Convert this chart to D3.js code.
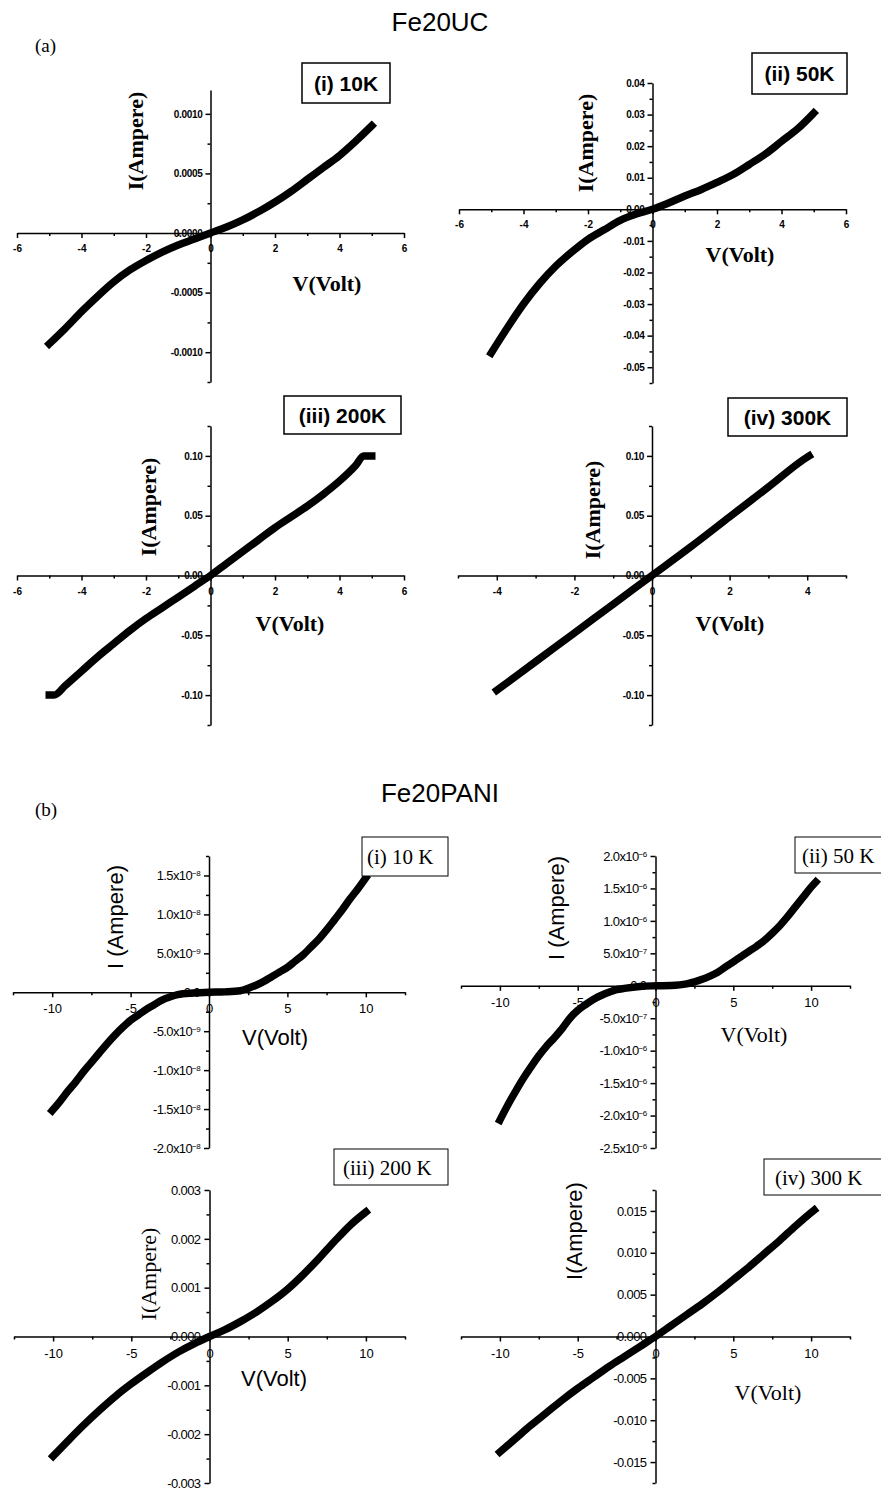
<!DOCTYPE html>
<html>
<head>
<meta charset="utf-8">
<script src="https://cdn.jsdelivr.net/npm/d3@7"></script>
<style>
  body { margin: 0; background: #fff; }
  svg { display: block; }
  .domain, .tick line { stroke: #000; stroke-width: 1.5; }
</style>
</head>
<body>
<svg id="chart" width="881" height="1491"></svg>
<script>
// ---- values ----
// (a) Fe20UC
const uc10V = [-5, -4.5, -4, -3.5, -3, -2.5, -2, -1.5, -1, -0.5, 0, 0.5, 1, 1.5, 2, 2.5, 3, 3.5, 4, 4.5, 5];
const uc10I = [-0.00093, -0.0008, -0.00066, -0.00053, -0.00041, -0.00031, -0.00023, -0.00016, -0.0001, -0.00005, 0,
               0.00005, 0.00011, 0.00018, 0.00026, 0.00035, 0.00045, 0.00055, 0.00065, 0.00077, 0.0009];
const uc50V = [-5, -4.5, -4, -3.5, -3, -2.5, -2, -1.5, -1, -0.5, 0, 0.5, 1, 1.5, 2, 2.5, 3, 3.5, 4, 4.5, 5];
const uc50I = [-0.0455, -0.0375, -0.03, -0.0235, -0.018, -0.0135, -0.0095, -0.0065, -0.0035, -0.0015, 0,
               0.002, 0.0042, 0.0062, 0.0085, 0.011, 0.0142, 0.0175, 0.0215, 0.0255, 0.0305];
const uc200V = [-5, -4.85, -4.5, -4, -3.5, -3, -2.5, -2, -1.5, -1, -0.5, 0, 0.5, 1, 1.5, 2, 2.5, 3, 3.5, 4, 4.5, 4.75, 5];
const uc200I = [-0.1, -0.1, -0.092, -0.08, -0.068, -0.057, -0.046, -0.036, -0.027, -0.018, -0.009, 0,
                0.01, 0.02, 0.03, 0.04, 0.049, 0.058, 0.068, 0.079, 0.092, 0.1, 0.1];
const uc300V = [-4, -3, -2, -1, 0, 1, 2, 3, 4, 4.05];
const uc300I = [-0.096, -0.072, -0.048, -0.024, 0, 0.024, 0.049, 0.074, 0.099, 0.1];

// (b) Fe20PANI
const pani10V = [-10, -9.5, -9, -8.5, -8, -7.5, -7, -6.5, -6, -5.5, -5, -4.5, -4, -3.5, -3, -2.5, -2, -1, 0,
                 1, 2, 2.5, 3, 3.5, 4, 4.5, 5, 5.5, 6, 6.5, 7, 7.5, 8, 8.5, 9, 9.5, 10];
const pani10I = [-1.52e-8, -1.4e-8, -1.27e-8, -1.15e-8, -1.02e-8, -0.9e-8, -0.78e-8, -0.66e-8, -0.55e-8, -0.45e-8,
                 -0.36e-8, -0.29e-8, -0.22e-8, -0.16e-8, -0.1e-8, -0.06e-8, -0.03e-8, -0.01e-8, 0,
                 0.005e-8, 0.02e-8, 0.05e-8, 0.09e-8, 0.14e-8, 0.2e-8, 0.26e-8, 0.32e-8, 0.4e-8, 0.48e-8,
                 0.58e-8, 0.68e-8, 0.8e-8, 0.93e-8, 1.06e-8, 1.2e-8, 1.33e-8, 1.47e-8];
const pani50V = [-10, -9.5, -9, -8.5, -8, -7.5, -7, -6.5, -6, -5.5, -5, -4.5, -4, -3.5, -3, -2.5, -2, -1, 0,
                 1, 2, 2.5, 3, 3.5, 4, 4.5, 5, 5.5, 6, 6.5, 7, 7.5, 8, 8.5, 9, 9.5, 10, 10.3];
const pani50I = [-2.07e-6, -1.84e-6, -1.63e-6, -1.43e-6, -1.25e-6, -1.08e-6, -0.93e-6, -0.8e-6, -0.66e-6, -0.5e-6,
                 -0.38e-6, -0.29e-6, -0.21e-6, -0.15e-6, -0.1e-6, -0.06e-6, -0.04e-6, -0.01e-6, 0,
                 0.005e-6, 0.03e-6, 0.06e-6, 0.1e-6, 0.15e-6, 0.21e-6, 0.29e-6, 0.37e-6, 0.45e-6, 0.53e-6,
                 0.61e-6, 0.7e-6, 0.81e-6, 0.93e-6, 1.07e-6, 1.22e-6, 1.37e-6, 1.52e-6, 1.6e-6];
const pani200V = [-10, -9, -8, -7, -6, -5, -4, -3, -2, -1, 0, 1, 2, 3, 4, 5, 6, 7, 8, 9, 10];
const pani200I = [-0.00245, -0.00212, -0.0018, -0.0015, -0.00122, -0.00097, -0.00074, -0.00052, -0.00032, -0.00015, 0,
                  0.00014, 0.00031, 0.0005, 0.00072, 0.00097, 0.00127, 0.0016, 0.00195, 0.00228, 0.00255];
const pani300V = [-10, -9, -8, -7, -6, -5, -4, -3, -2, -1, 0, 1, 2, 3, 4, 5, 6, 7, 8, 9, 10, 10.2];
const pani300I = [-0.0138, -0.0122, -0.0106, -0.0091, -0.0076, -0.0062, -0.0049, -0.0036, -0.0024, -0.0012, 0,
                  0.0013, 0.0026, 0.0039, 0.0053, 0.0068, 0.0083, 0.0099, 0.0115, 0.0132, 0.0148, 0.0151];

// tick values and labels
const ucXTicks = [-6, -4, -2, 0, 2, 4, 6];
const ucXTicks300 = [-4, -2, 0, 2, 4];
const paniXTicks = [-10, -5, 0, 5, 10];
const uc10YTicks = [0.001, 0.0005, 0, -0.0005, -0.001];
const uc10YLabels = ["0.0010", "0.0005", "0.0000", "-0.0005", "-0.0010"];
const uc50YTicks = [0.04, 0.03, 0.02, 0.01, 0, -0.01, -0.02, -0.03, -0.04, -0.05];
const uc50YLabels = ["0.04", "0.03", "0.02", "0.01", "0.00", "-0.01", "-0.02", "-0.03", "-0.04", "-0.05"];
const ucHiYTicks = [0.1, 0.05, 0, -0.05, -0.1];
const ucHiYLabels = ["0.10", "0.05", "0.00", "-0.05", "-0.10"];
const pani10YTicks = [1.5e-8, 1e-8, 5e-9, 0, -5e-9, -1e-8, -1.5e-8, -2e-8];
const pani10YLabels = ["1.5x10^-8", "1.0x10^-8", "5.0x10^-9", "0.0", "-5.0x10^-9", "-1.0x10^-8", "-1.5x10^-8", "-2.0x10^-8"];
const pani50YTicks = [2e-6, 1.5e-6, 1e-6, 5e-7, 0, -5e-7, -1e-6, -1.5e-6, -2e-6, -2.5e-6];
const pani50YLabels = ["2.0x10^-6", "1.5x10^-6", "1.0x10^-6", "5.0x10^-7", "0.0", "-5.0x10^-7", "-1.0x10^-6", "-1.5x10^-6", "-2.0x10^-6", "-2.5x10^-6"];
const pani200YTicks = [0.003, 0.002, 0.001, 0, -0.001, -0.002, -0.003];
const pani200YLabels = ["0.003", "0.002", "0.001", "0.000", "-0.001", "-0.002", "-0.003"];
const pani300YTicks = [0.015, 0.01, 0.005, 0, -0.005, -0.01, -0.015];
const pani300YLabels = ["0.015", "0.010", "0.005", "0.000", "-0.005", "-0.010", "-0.015"];

const SANS = '"Liberation Sans", Arial, Helvetica, sans-serif';
const SERIF = '"Liberation Serif", "Times New Roman", Times, serif';

const svg = d3.select("#chart");

// titles
svg.append("text").attr("x", 440).attr("y", 31).attr("text-anchor", "middle")
  .style("font-family", SANS).style("font-size", "26px").text("Fe20UC");
svg.append("text").attr("x", 440).attr("y", 802).attr("text-anchor", "middle")
  .style("font-family", SANS).style("font-size", "26px").text("Fe20PANI");
svg.append("text").attr("x", 35).attr("y", 52)
  .style("font-family", SERIF).style("font-size", "19px").text("(a)");
svg.append("text").attr("x", 35).attr("y", 816)
  .style("font-family", SERIF).style("font-size", "19px").text("(b)");

function minorTicks(domain, step) {
  const h = step / 2;
  const lo = Math.ceil(domain[0] / h - 1e-9), hi = Math.floor(domain[1] / h + 1e-9);
  return d3.range(lo, hi + 1).filter(k => k % 2 !== 0).map(k => k * h);
}

function panel(p) {
  const x = d3.scaleLinear().domain(p.xDomain).range(p.xRange);
  const y = d3.scaleLinear().domain(p.yDomain).range(p.yRange);
  const g = svg.append("g");

  // minor ticks
  g.append("g").attr("transform", `translate(0,${y(0)})`)
    .call(d3.axisBottom(x).tickValues(minorTicks(p.xDomain, p.xStep)).tickSize(3).tickSizeOuter(0).tickFormat(""))
    .select(".domain").remove();
  g.append("g").attr("transform", `translate(${x(0)},0)`)
    .call(d3.axisLeft(y).tickValues(minorTicks(p.yDomain, p.yStep)).tickSize(3).tickSizeOuter(0).tickFormat(""))
    .select(".domain").remove();

  // x axis
  const xa = g.append("g").attr("transform", `translate(0,${y(0)})`)
    .call(d3.axisBottom(x).tickValues(p.xTicks).tickSize(5).tickSizeOuter(0).tickPadding(p.xPad)
      .tickFormat(d => String(d)));
  xa.selectAll("text").style("font-family", SANS).style("font-size", p.tickSize + "px")
    .style("font-weight", p.tickWeight).attr("fill", "#000");

  // y axis
  const ya = g.append("g").attr("transform", `translate(${x(0)},0)`)
    .call(d3.axisLeft(y).tickValues(p.yTicks).tickSize(5).tickSizeOuter(0).tickPadding(p.yPad)
      .tickFormat((d, i) => p.yLabels[i]));
  ya.selectAll(".tick text").each(function (d, i) {
    const lab = p.yLabels[i];
    const t = d3.select(this).attr("fill", "#000")
      .style("font-family", SANS).style("font-size", p.tickSize + "px").style("font-weight", p.tickWeight)
      .style("letter-spacing", p.tickSpacing);
    if (lab.includes("^")) {
      const [base, exp] = lab.split("^");
      t.text(null);
      t.append("tspan").text(base);
      t.append("tspan").attr("dy", "-0.5em").style("font-size", "8px").text(exp.replace("-", "\u2212"));
    }
  });

  // data band
  const pts = p.V.map((v, i) => [v, p.I[i]]);
  g.append("path").datum(pts)
    .attr("d", d3.line().x(d => x(d[0])).y(d => y(d[1])).curve(d3.curveMonotoneX))
    .attr("fill", "none").attr("stroke", "#000").attr("stroke-width", 7.5)
    .attr("stroke-linejoin", "round").attr("stroke-linecap", "square");

  // label box
  const b = p.box;
  g.append("rect").attr("x", b.x).attr("y", b.y).attr("width", b.w).attr("height", b.h)
    .attr("fill", "#fff").attr("stroke", "#000").attr("stroke-width", b.sw);
  g.append("text").attr("x", b.tx).attr("y", b.y + b.h / 2 + 7.5)
    .attr("text-anchor", b.anchor)
    .style("font-family", b.font).style("font-size", b.size + "px").style("font-weight", b.weight)
    .text(b.text);

  // axis titles
  g.append("text").attr("transform", `translate(${p.yTitle.x},${p.yTitle.y}) rotate(-90)`)
    .attr("text-anchor", "middle").attr("dy", "0.35em")
    .style("font-family", p.yTitle.font).style("font-size", "22px").style("font-weight", p.yTitle.weight)
    .text(p.yTitle.text);
  g.append("text").attr("x", p.xTitle.x).attr("y", p.xTitle.y).attr("text-anchor", "middle").attr("dy", "0.35em")
    .style("font-family", p.xTitle.font).style("font-size", "22px").style("font-weight", p.xTitle.weight)
    .text(p.xTitle.text);
}

const aTick = { tickSize: 10, tickWeight: "bold", tickSpacing: "-0.3px", xPad: 7, yPad: 3 };
const bTick = { tickSize: 13, tickWeight: "normal", tickSpacing: "-0.6px", xPad: 7, yPad: 4 };

panel(Object.assign({
  xDomain: [-6, 6], xRange: [17, 404], xTicks: ucXTicks, xStep: 2,
  yDomain: [-0.00125, 0.0012], yRange: [382, 90], yTicks: uc10YTicks, yLabels: uc10YLabels, yStep: 0.0005,
  V: uc10V, I: uc10I,
  box: { x: 302, y: 63, w: 88, h: 40, sw: 1.5, tx: 346, anchor: "middle", text: "(i) 10K", font: SANS, size: 21, weight: "bold" },
  yTitle: { x: 135, y: 141, text: "I(Ampere)", font: SERIF, weight: "bold" },
  xTitle: { x: 327, y: 283, text: "V(Volt)", font: SERIF, weight: "bold" }
}, aTick));

panel(Object.assign({
  xDomain: [-6, 6], xRange: [459, 846], xTicks: ucXTicks, xStep: 2,
  yDomain: [-0.055, 0.04], yRange: [383, 83], yTicks: uc50YTicks, yLabels: uc50YLabels, yStep: 0.01,
  V: uc50V, I: uc50I,
  box: { x: 752, y: 53, w: 95, h: 41, sw: 1.5, tx: 799.5, anchor: "middle", text: "(ii) 50K", font: SANS, size: 21, weight: "bold" },
  yTitle: { x: 585, y: 143, text: "I(Ampere)", font: SERIF, weight: "bold" },
  xTitle: { x: 740, y: 254, text: "V(Volt)", font: SERIF, weight: "bold" }
}, aTick));

panel(Object.assign({
  xDomain: [-6, 6], xRange: [17, 404], xTicks: ucXTicks, xStep: 2,
  yDomain: [-0.125, 0.125], yRange: [725, 426], yTicks: ucHiYTicks, yLabels: ucHiYLabels, yStep: 0.05,
  V: uc200V, I: uc200I,
  box: { x: 284, y: 396, w: 117, h: 38, sw: 1.5, tx: 342.5, anchor: "middle", text: "(iii) 200K", font: SANS, size: 21, weight: "bold" },
  yTitle: { x: 148, y: 507, text: "I(Ampere)", font: SERIF, weight: "bold" },
  xTitle: { x: 290, y: 623, text: "V(Volt)", font: SERIF, weight: "bold" }
}, aTick));

panel(Object.assign({
  xDomain: [-5, 5], xRange: [458, 846], xTicks: ucXTicks300, xStep: 2,
  yDomain: [-0.125, 0.125], yRange: [725, 426], yTicks: ucHiYTicks, yLabels: ucHiYLabels, yStep: 0.05,
  V: uc300V, I: uc300I,
  box: { x: 728, y: 398, w: 119, h: 38, sw: 1.5, tx: 787.5, anchor: "middle", text: "(iv) 300K", font: SANS, size: 21, weight: "bold" },
  yTitle: { x: 592, y: 510, text: "I(Ampere)", font: SERIF, weight: "bold" },
  xTitle: { x: 730, y: 623, text: "V(Volt)", font: SERIF, weight: "bold" }
}, aTick));

panel(Object.assign({
  xDomain: [-12.5, 12.5], xRange: [13, 405], xTicks: paniXTicks, xStep: 5,
  yDomain: [-2e-8, 1.75e-8], yRange: [1148, 856], yTicks: pani10YTicks, yLabels: pani10YLabels, yStep: 5e-9,
  V: pani10V, I: pani10I,
  box: { x: 362, y: 837, w: 86, h: 39, sw: 1, tx: 367, anchor: "start", text: "(i) 10 K", font: SERIF, size: 21, weight: "normal" },
  yTitle: { x: 115, y: 917, text: "I (Ampere)", font: SANS, weight: "normal" },
  xTitle: { x: 275, y: 1037, text: "V(Volt)", font: SANS, weight: "normal" }
}, bTick));

panel(Object.assign({
  xDomain: [-12.5, 12.5], xRange: [461, 850], xTicks: paniXTicks, xStep: 5,
  yDomain: [-2.5e-6, 2e-6], yRange: [1148, 856], yTicks: pani50YTicks, yLabels: pani50YLabels, yStep: 5e-7,
  V: pani50V, I: pani50I,
  box: { x: 795, y: 837, w: 92, h: 36, sw: 1, tx: 802, anchor: "start", text: "(ii) 50 K", font: SERIF, size: 21, weight: "normal" },
  yTitle: { x: 556, y: 908, text: "I (Ampere)", font: SANS, weight: "normal" },
  xTitle: { x: 754, y: 1034, text: "V(Volt)", font: SERIF, weight: "normal" }
}, bTick));

panel(Object.assign({
  xDomain: [-12.5, 12.5], xRange: [14, 405], xTicks: paniXTicks, xStep: 5,
  yDomain: [-0.003, 0.003], yRange: [1483, 1190], yTicks: pani200YTicks, yLabels: pani200YLabels, yStep: 0.001,
  V: pani200V, I: pani200I,
  box: { x: 334, y: 1149, w: 114, h: 36, sw: 1, tx: 343, anchor: "start", text: "(iii) 200 K", font: SERIF, size: 21, weight: "normal" },
  yTitle: { x: 148, y: 1274, text: "I(Ampere)", font: SERIF, weight: "normal" },
  xTitle: { x: 274, y: 1378, text: "V(Volt)", font: SANS, weight: "normal" }
}, bTick));

panel(Object.assign({
  xDomain: [-12.5, 12.5], xRange: [461, 850], xTicks: paniXTicks, xStep: 5,
  yDomain: [-0.0175, 0.0175], yRange: [1483, 1190], yTicks: pani300YTicks, yLabels: pani300YLabels, yStep: 0.005,
  V: pani300V, I: pani300I,
  box: { x: 764, y: 1159, w: 120, h: 36, sw: 1, tx: 775, anchor: "start", text: "(iv) 300 K", font: SERIF, size: 21, weight: "normal" },
  yTitle: { x: 574, y: 1231, text: "I(Ampere)", font: SANS, weight: "normal" },
  xTitle: { x: 768, y: 1392, text: "V(Volt)", font: SERIF, weight: "normal" }
}, bTick));
</script>
</body>
</html>
